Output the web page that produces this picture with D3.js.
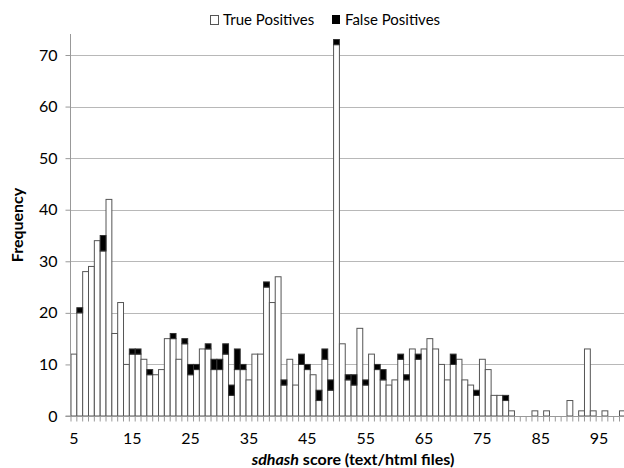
<!DOCTYPE html>
<html>
<head>
<meta charset="utf-8">
<script src="https://cdn.jsdelivr.net/npm/d3@7"></script>
<style>
  body { margin: 0; background: #fff; }
  text { font-family: Lato, "Open Sans", sans-serif; fill: #000; }
</style>
</head>
<body>
<script>
"use strict";
// sdhash score bins 5..100
const scores = d3.range(5, 101);
const truePositives = [12, 20, 28, 29, 34, 32, 42, 16, 22, 10, 12, 12, 11, 8, 8, 9,
    15, 15, 11, 14, 8, 9, 13, 13, 9, 9, 12, 4, 9, 9, 7, 12, 12, 25, 22, 27,
    6, 11, 6, 10, 9, 8, 3, 11, 5, 72, 14, 7, 6, 17, 6, 12, 9, 7, 6, 7,
    11, 7, 13, 11, 13, 15, 13, 10, 7, 10, 11, 7, 6, 4, 11, 9, 4, 4, 3, 1,
    0, 0, 0, 1, 0, 1, 0, 0, 0, 3, 0, 1, 13, 1, 0, 1, 0, 0, 1, 0];
const falsePositives = [0, 1, 0, 0, 0, 3, 0, 0, 0, 0, 1, 1, 0, 1, 0, 0,
    0, 1, 0, 1, 2, 1, 0, 1, 2, 2, 2, 2, 4, 1, 0, 0, 0, 1, 0, 0,
    1, 0, 0, 2, 1, 0, 2, 2, 2, 1, 0, 1, 2, 0, 1, 0, 1, 2, 0, 0,
    1, 1, 0, 1, 0, 0, 0, 0, 0, 2, 0, 0, 0, 1, 0, 0, 0, 0, 1, 0,
    0, 0, 0, 0, 0, 0, 0, 0, 0, 0, 0, 0, 0, 0, 0, 0, 0, 0, 0, 0];
const yTicks = [0, 10, 20, 30, 40, 50, 60, 70];
const xLabels = [5, 15, 25, 35, 45, 55, 65, 75, 85, 95];

const width = 624, height = 468;
const plot = { left: 71, top: 34, bottom: 416, right: 624 };

const svg = d3.select("body").append("svg")
    .attr("width", width)
    .attr("height", height);

const x = d3.scaleBand()
    .domain(scores)
    .range([plot.left, plot.left + 96 * 5.835])
    .paddingInner(0).paddingOuter(0);

const y = d3.scaleLinear()
    .domain([0, 70])
    .range([plot.bottom, 55]);

// gridlines
svg.append("g")
    .selectAll("line")
    .data(yTicks.slice(1))
    .enter().append("line")
        .attr("x1", plot.left).attr("x2", plot.right)
        .attr("y1", d => Math.round(y(d)) + 0.5)
        .attr("y2", d => Math.round(y(d)) + 0.5)
        .attr("stroke", "#b8b8b8");

const rows = scores.map((s, i) => ({ s: s, tp: truePositives[i], fp: falsePositives[i] }));

const bars = svg.append("g").attr("clip-path", "url(#clip)");
svg.append("clipPath").attr("id", "clip")
    .append("rect").attr("x", 0).attr("y", 0).attr("width", width).attr("height", height);

bars.selectAll(".tp")
    .data(rows.filter(d => d.tp > 0))
    .enter().append("rect")
        .attr("x", d => x(d.s))
        .attr("width", x.bandwidth())
        .attr("y", d => y(d.tp))
        .attr("height", d => y(0) - y(d.tp))
        .attr("fill", "#fff")
        .attr("stroke", "#555")
        .attr("stroke-width", 1);

bars.selectAll(".fp")
    .data(rows.filter(d => d.fp > 0))
    .enter().append("rect")
        .attr("x", d => x(d.s))
        .attr("width", x.bandwidth())
        .attr("y", d => y(d.tp + d.fp))
        .attr("height", d => y(d.tp) - y(d.tp + d.fp))
        .attr("fill", "#000")
        .attr("stroke", "#333")
        .attr("stroke-width", 1);

// y axis
const yAxis = svg.append("g")
    .attr("transform", `translate(${plot.left - 0.5},0)`)
    .call(d3.axisLeft(y).tickValues(yTicks).tickSize(5).tickPadding(8));
yAxis.select(".domain").attr("d", `M-5,${plot.bottom}H0V${plot.top}`).attr("stroke", "#999");
yAxis.selectAll(".tick line").attr("stroke", "#999");
yAxis.selectAll(".tick text").style("font-size", "16px").style("font-family", "Lato, sans-serif");

// x axis: ticks between every bin
const xAxis = svg.append("g")
    .attr("transform", `translate(0,${plot.bottom + 0.5})`);
xAxis.append("line")
    .attr("x1", plot.left - 5).attr("x2", plot.right)
    .attr("stroke", "#999");
xAxis.selectAll(".tk")
    .data(scores)
    .enter().append("line")
        .attr("x1", d => x(d)).attr("x2", d => x(d))
        .attr("y1", 0).attr("y2", 5)
        .attr("stroke", "#999");
xAxis.selectAll(".lbl")
    .data(xLabels)
    .enter().append("text")
        .attr("x", d => x(d) + x.bandwidth() / 2)
        .attr("y", 27)
        .attr("text-anchor", "middle")
        .style("font-size", "16px")
        .text(d => d);

// axis titles
svg.append("text")
    .attr("transform", `translate(23,225) rotate(-90)`)
    .attr("text-anchor", "middle")
    .style("font-size", "16px")
    .style("font-weight", "bold")
    .text("Frequency");

const xt = svg.append("text")
    .attr("x", 353).attr("y", 465)
    .attr("text-anchor", "middle")
    .style("font-size", "16px")
    .style("font-weight", "bold");
xt.append("tspan").style("font-style", "italic").text("sdhash");
xt.append("tspan").text(" score (text/html files)");

// legend
const legend = svg.append("g");
legend.append("rect").attr("x", 210.5).attr("y", 15.5).attr("width", 8).attr("height", 9)
    .attr("fill", "#fff").attr("stroke", "#555");
legend.append("text").attr("x", 223).attr("y", 25).style("font-size", "15px").text("True Positives");
legend.append("rect").attr("x", 332).attr("y", 15).attr("width", 8).attr("height", 9)
    .attr("fill", "#000");
legend.append("text").attr("x", 345).attr("y", 25).style("font-size", "15px").text("False Positives");
</script>
</body>
</html>
